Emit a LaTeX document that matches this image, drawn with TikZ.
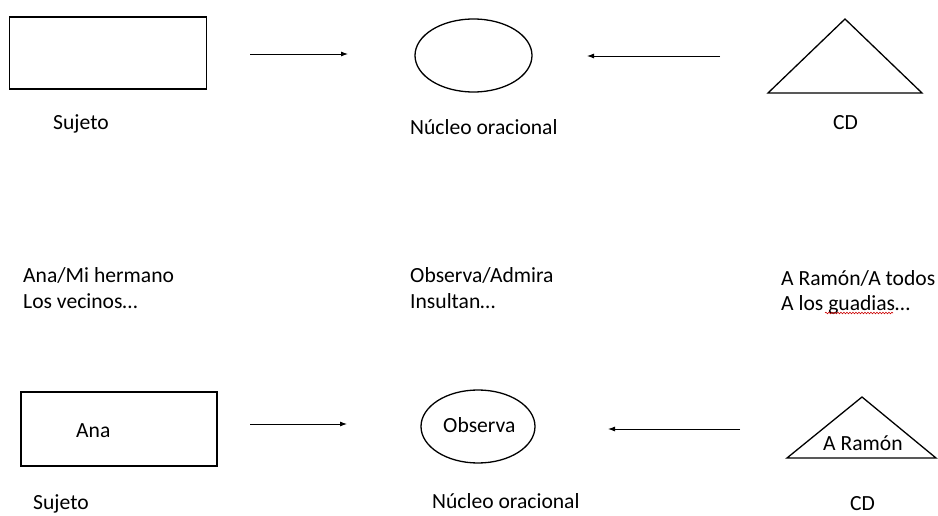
\documentclass[tikz,border=0pt]{standalone}
\usepackage{fontspec}
\setmainfont{Carlito}
\usetikzlibrary{arrows.meta,decorations.pathmorphing,shapes.geometric}
\begin{document}
\begin{tikzpicture}[x=1pt,y=-1pt,
  shapeline/.style={draw=black, line width=1.3pt},
  boxnode/.style={shapeline, rectangle, inner sep=0pt},
  ellnode/.style={shapeline, ellipse, inner sep=0pt},
  lbl/.style={inner sep=0pt, anchor=base west, font=\fontsize{21.6}{26}\selectfont},
  conn/.style={line width=0.9pt, -{Latex[length=7pt,width=5pt]}}]
\useasboundingbox[fill=white] (0,0) rectangle (938,516);

% ---- top row ----
\node[boxnode, minimum width=197pt, minimum height=72pt] (r1) at (108,53) {};
\node[ellnode, minimum width=117pt, minimum height=73pt] (e1) at (473.5,55.5) {};
\coordinate (t1l) at (768,93);
\coordinate (t1a) at (845,19);
\coordinate (t1r) at (922,93);
\draw[shapeline, line join=miter] (t1l) -- (t1a) -- (t1r) -- cycle;

\coordinate (a1s) at (250,54);
\coordinate (a1e) at (348,54);
\draw[conn] (a1s) -- (a1e);
\coordinate (a2s) at (720,56);
\coordinate (a2e) at (587,56);
\draw[conn] (a2s) -- (a2e);

\node[lbl] (l1) at (53,130) {Sujeto};
\node[lbl] (l2) at (410,135) {Núcleo oracional};
\node[lbl] (l3) at (833,130) {CD};

% ---- middle text ----
\node[lbl] (m1a) at (23,283) {Ana/Mi hermano};
\node[lbl] (m1b) at (23,308) {Los vecinos…};
\node[lbl] (m2a) at (410,283) {Observa/Admira};
\node[lbl] (m2b) at (410,308) {Insultan…};
\node[lbl] (m3a) at (781,285) {A Ramón/A todos};
\node[lbl] (m3b) at (781,310) {A los guadias…};
\coordinate (sq1) at (825,313);
\coordinate (sq2) at (893,313);
\draw[red!80!black, line width=0.6pt, decorate,
      decoration={snake, amplitude=0.8pt, segment length=3pt}] (sq1) -- (sq2);

% ---- bottom row ----
\node[boxnode, minimum width=196pt, minimum height=74pt] (r2) at (119,429) {};
\node[lbl] (t2) at (76,437) {Ana};
\node[ellnode, minimum width=114pt, minimum height=73pt] (e2) at (478,426.5) {};
\node[lbl] (t3) at (443,432) {Observa};
\coordinate (t2l) at (787,458);
\coordinate (t2a) at (862,397);
\coordinate (t2r) at (936,458);
\draw[shapeline, line join=miter] (t2l) -- (t2a) -- (t2r) -- cycle;
\node[lbl] (t4) at (823,450) {A Ramón};

\coordinate (b1s) at (250,424);
\coordinate (b1e) at (347,424);
\draw[conn] (b1s) -- (b1e);
\coordinate (b2s) at (740,429);
\coordinate (b2e) at (608,429);
\draw[conn] (b2s) -- (b2e);

\node[lbl] (l4) at (33,509) {Sujeto};
\node[lbl] (l5) at (432,508) {Núcleo oracional};
\node[lbl] (l6) at (850,510) {CD};
\end{tikzpicture}
\end{document}
